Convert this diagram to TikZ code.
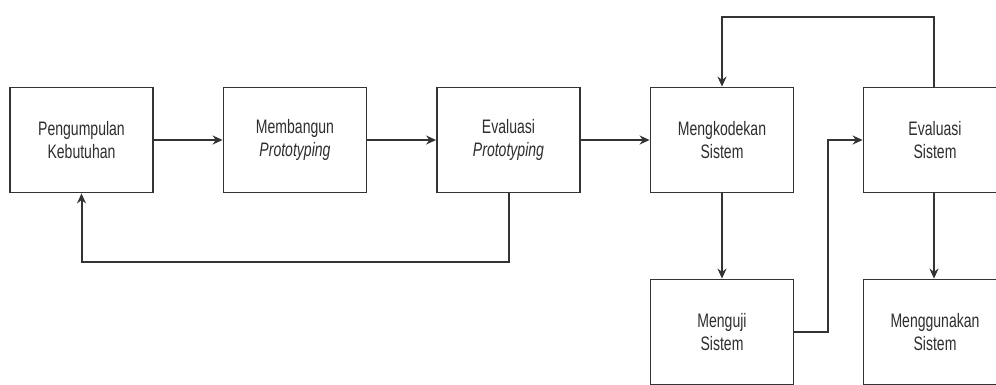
\documentclass[tikz,border=0pt]{standalone}
\usepackage{fontspec}
\setmainfont[FakeStretch=0.72]{Liberation Sans}
\usetikzlibrary{arrows.meta}
\definecolor{boxline}{HTML}{333333}
\definecolor{conn}{HTML}{333333}
\definecolor{txt}{HTML}{2E2E2E}
\begin{document}
\begin{tikzpicture}[x=1pt,y=-1pt,
  stepbox/.style={draw=boxline,line width=1.8pt,fill=white,minimum width=143pt,minimum height=105pt,
    inner sep=0pt,align=center,text=txt,font=\fontsize{19.5}{23}\selectfont},
  conn/.style={draw=conn,line width=2pt,-{Stealth[length=10pt,width=9pt]}}]
\useasboundingbox (0,0) rectangle (996,384);
\clip (0,0) rectangle (996,384);
\node[stepbox] (a) at (81.5,140) {Pengumpulan\\Kebutuhan};
\node[stepbox] (b) at (295,140) {Membangun\\\textit{Prototyping}};
\node[stepbox] (c) at (508.5,140) {Evaluasi\\\textit{Prototyping}};
\node[stepbox] (d) at (722,140) {Mengkodekan\\Sistem};
\node[stepbox] (e) at (935,140) {Evaluasi\\Sistem};
\node[stepbox] (f) at (722,332) {Menguji\\Sistem};
\node[stepbox] (g) at (935,332) {Menggunakan\\Sistem};
\coordinate (tl) at (722,17);
\coordinate (tr) at (934,17);
\coordinate (bl) at (81.5,262);
\coordinate (br) at (508.5,262);
\coordinate (m1) at (828,332);
\coordinate (m2) at (828,140);
\draw[conn] (a) -- (b);
\draw[conn] (b) -- (c);
\draw[conn] (c) -- (d);
\draw[conn] (c.south) -- (br) -- (bl) -- (a.south);
\draw[conn] (tr |- e.north) -- (tr) -- (tl) -- (d.north);
\draw[conn] (d) -- (f);
\draw[conn] (tr |- e.south) -- (tr |- g.north);
\draw[conn] (f.east) -- (m1) -- (m2) -- (e.west);
\end{tikzpicture}
\end{document}
